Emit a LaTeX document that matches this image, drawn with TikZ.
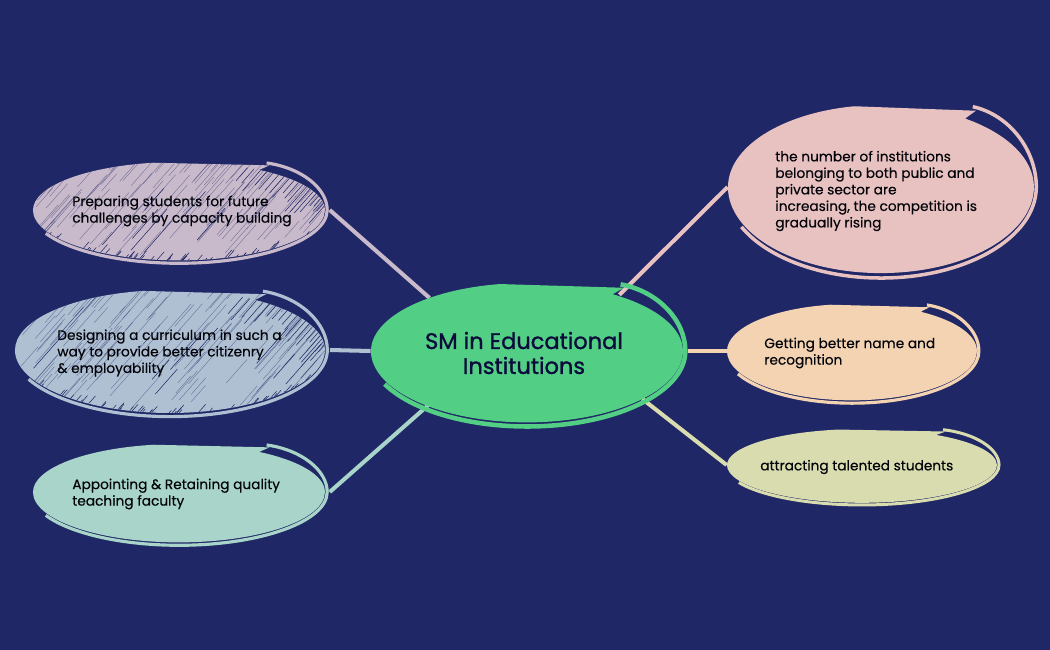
\documentclass[tikz,border=0pt]{standalone}
\usepackage{fontspec}
\setmainfont[FakeBold=0.35]{Poppins}
\newfontfamily\titlefont[FakeBold=1.1]{Poppins}
\usetikzlibrary{shapes.geometric,backgrounds}

\definecolor{bgnavy}{HTML}{1F2766}
\definecolor{inknavy}{HTML}{0B0B3B}
\definecolor{smgreen}{HTML}{52CE85}
\definecolor{prepcol}{HTML}{C9BACB}
\definecolor{desigcol}{HTML}{AFC0D2}
\definecolor{appcol}{HTML}{A8D4C9}
\definecolor{pinkcol}{HTML}{E8C2C1}
\definecolor{peachcol}{HTML}{F3D3B2}
\definecolor{limecol}{HTML}{D8DCAE}

\tikzset{
    anchorell/.style={ellipse, inner sep=0pt},
    label/.style={font=\fontsize{7.8pt}{9.4pt}\selectfont, text=black!90!bgnavy, align=left, inner sep=0pt, anchor=west},
    title/.style={font=\titlefont\fontsize{12.8pt}{14.2pt}\selectfont, text=inknavy, align=center, inner sep=0pt},
    spoke/.style={line width=2.3pt},
    hatchline/.style={bgnavy, line width=0.2pt, opacity=0.55},
    hatchstrong/.style={bgnavy, line width=0.3pt}
}

% blob outline in unit coordinates
\newcommand{\blobpath}{(-1,0) arc[start angle=180, end angle=100, radius=1]
    -- (0.62,0.93) -- (0.55,0.835)
    arc[start angle=56.6, end angle=0, radius=1]
    arc[start angle=0, end angle=-180, x radius=1, y radius=1.05] -- cycle}

% name, cx, cy, rx, ry, colour, rim width
\newcommand{\bubble}[7]{
    \node[anchorell, minimum width=#4*0.406mm, minimum height=#5*0.4mm] (#1) at ({#2+0.015*#4},#3) {};
    \begin{scope}[shift={(#2,#3)}, x=#4*0.2mm, y=#5*0.2mm]
        \fill[#6] \blobpath;
        \draw[#6, line width=#7] (0.6,0.98) .. controls (0.84,0.88) and (1.015,0.45) .. (1.015,0)
            arc[start angle=0, end angle=-154, x radius=1.015, y radius=1.11];
    \end{scope}
}

% cx, cy, rx, ry, number of strokes
\newcommand{\hatching}[5]{
    \begin{scope}
        \clip[shift={(#1,#2)}, x=#3*0.2mm, y=#4*0.2mm] \blobpath;
        \foreach \k in {1,...,#5} {
            \pgfmathsetmacro{\hx}{#1-#3+2*#3*rnd}
            \pgfmathsetmacro{\hy}{#2-#4+2*#4*rnd}
            \pgfmathsetmacro{\hl}{20+40*rnd}
            \draw[hatchline] (\hx,\hy) -- ++(0.66*\hl,-0.75*\hl);
        }
        % a few heavier strokes
        \foreach \k in {1,...,8} {
            \pgfmathsetmacro{\hx}{#1-#3+2*#3*rnd}
            \pgfmathsetmacro{\hy}{#2+#4*rnd}
            \pgfmathsetmacro{\hl}{25+30*rnd}
            \draw[hatchstrong] (\hx,\hy) -- ++(0.66*\hl,-0.75*\hl);
        }
        % along the bottom rim
        \foreach \k in {1,...,45} {
            \pgfmathsetmacro{\hx}{#1-0.9*#3+1.8*#3*rnd}
            \pgfmathsetmacro{\hy}{#2+1.05*#4*sqrt(max(0,1-((\hx-#1)/#3)^2))}
            \pgfmathsetmacro{\hl}{2+9*rnd}
            \draw[hatchstrong] (\hx,\hy) -- ++(0.66*\hl,-0.75*\hl);
        }
        % along the upper right rim
        \foreach \k in {5,8,...,62} {
            \pgfmathsetmacro{\hl}{10+24*rnd}
            \draw[hatchstrong] ({#1+#3*cos(\k)},{#2-#4*sin(\k)}) -- ++(-0.66*\hl,0.75*\hl);
        }
    \end{scope}
}

\begin{document}
\begin{tikzpicture}[x=0.2mm, y=-0.2mm]
    \useasboundingbox (0,0) rectangle (1050,650);
    \pgfmathsetseed{11}

    \bubble{prep}{179}{210}{146}{48}{prepcol}{1.8pt}
    \bubble{desig}{170}{350}{155}{60}{desigcol}{1.8pt}
    \bubble{app}{179}{492}{146}{48}{appcol}{1.8pt}
    \bubble{pink}{881}{187}{153}{82}{pinkcol}{2pt}
    \bubble{peach}{852}{351}{125}{47}{peachcol}{1.8pt}
    \bubble{lime}{862}{465}{135}{36}{limecol}{1.7pt}
    \bubble{sm}{527}{351}{156}{68}{smgreen}{2.6pt}

    \hatching{179}{210}{146}{48}{130}
    \hatching{170}{350}{155}{60}{150}

    \begin{pgfonlayer}{background}
        \fill[bgnavy] (0,0) rectangle (1050,650);
        \draw[spoke, prepcol] (sm.152) -- (prep.east);
        \draw[spoke, desigcol] (sm.west) -- (desig.east);
        \draw[spoke, appcol] (sm.208) -- (app.east);
        \draw[spoke, pinkcol] (sm.32) -- (pink.west);
        \draw[spoke, peachcol] (sm.east) -- (peach.west);
        \draw[spoke, limecol] (sm.-23) -- (lime.west);
    \end{pgfonlayer}

    \node[title] (smtext) at (524,353) {SM in Educational\\Institutions};
    \node[label] (preptext) at (72,211) {Preparing students for future\\challenges by capacity building};
    \node[label] (desigtext) at (57,353) {Designing a curriculum in such a\\way to provide better citizenry\\\& employability};
    \node[label] (apptext) at (72,494) {Appointing \& Retaining quality\\teaching faculty};
    \node[label] (pinktext) at (775,191) {the number of institutions\\belonging to both public and\\private sector are\\increasing, the competition is\\gradually rising};
    \node[label] (peachtext) at (764,353) {Getting better name and\\recognition};
    \node[label] (limetext) at (760,467) {attracting talented students};
\end{tikzpicture}
\end{document}
